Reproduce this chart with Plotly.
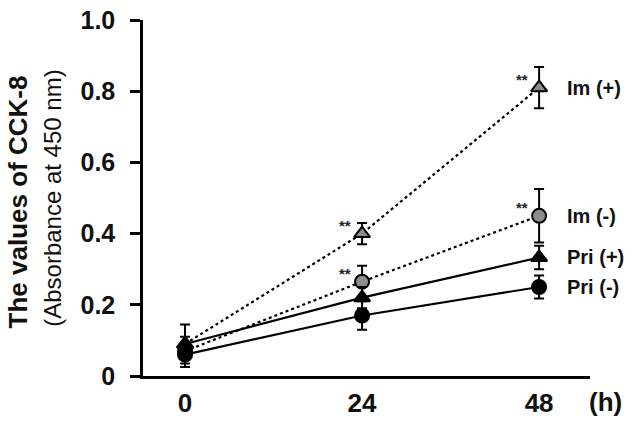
import plotly.graph_objects as go

# --------------------------------------------------------
# Data
# --------------------------------------------------------

hours = [0, 24, 48]

im_plus = [0.09, 0.40, 0.81]
im_plus_err = [0.055, 0.03, 0.058]

im_minus = [0.07, 0.265, 0.45]
im_minus_err = [0.02, 0.045, 0.075]

pri_plus = [0.09, 0.22, 0.333]
pri_plus_err = [0.02, 0.03, 0.033]

pri_minus = [0.06, 0.17, 0.25]
pri_minus_err = [0.035, 0.04, 0.032]

series_names = ["Im (+)", "Im (-)", "Pri (+)", "Pri (-)"]

y_ticks = [0, 0.2, 0.4, 0.6, 0.8, 1.0]
y_tick_text = ["0", "0.2", "0.4", "0.6", "0.8", "1.0"]

FONT = "Liberation Sans, Arial, sans-serif"


def add_series(fig, y, err, dash, symbol, fill):

    fig.add_trace(

        go.Scatter(

            x=hours,

            y=y,

            mode="lines+markers",

            line={"color": "black", "width": 2.2, "dash": dash},

            marker={

                "symbol": symbol,

                "size": 14,

                "color": fill,

                "line": {"color": "black", "width": 2}

            },

            error_y={

                "type": "data",

                "array": err,

                "color": "black",

                "thickness": 2,

                "width": 5

            },

            showlegend=False

        )

    )


fig = go.Figure()

add_series(fig, im_plus, im_plus_err, "dot", "triangle-up", "#8c8c8c")
add_series(fig, im_minus, im_minus_err, "dot", "circle", "#8c8c8c")
add_series(fig, pri_plus, pri_plus_err, "solid", "triangle-up", "black")
add_series(fig, pri_minus, pri_minus_err, "solid", "circle", "black")


# --------------------------------------------------------
# Series labels at the right
# --------------------------------------------------------

last_values = [im_plus[-1], im_minus[-1], pri_plus[-1], pri_minus[-1]]

for name, yv in zip(series_names, last_values):

    fig.add_annotation(

        x=hours[-1], y=yv, xref="x", yref="y",

        text=f"<b>{name}</b>",

        showarrow=False,

        xanchor="left", yanchor="middle",

        xshift=26,

        font={"family": FONT, "size": 20, "color": "#111"}

    )


# --------------------------------------------------------
# Significance marks
# --------------------------------------------------------

for series in [im_plus, im_minus]:

    for i in [1, 2]:

        fig.add_annotation(

            x=hours[i], y=series[i], xref="x", yref="y",

            text="<b>**</b>",

            showarrow=False,

            xanchor="center", yanchor="middle",

            xshift=-17, yshift=8,

            font={"family": FONT, "size": 15, "color": "#222"}

        )


# --------------------------------------------------------
# Axis titles
# --------------------------------------------------------

fig.add_annotation(

    x=-0.28, y=0.49, xref="paper", yref="paper",

    text="<b>The values of CCK-8</b>",

    textangle=-90, showarrow=False,

    xanchor="center", yanchor="middle",

    font={"family": FONT, "size": 26, "color": "#111"}

)

fig.add_annotation(

    x=-0.204, y=0.5, xref="paper", yref="paper",

    text="(Absorbance at 450 nm)",

    textangle=-90, showarrow=False,

    xanchor="center", yanchor="middle",

    font={"family": FONT, "size": 24, "color": "#111"}

)

fig.add_annotation(

    x=1.034, y=0, xref="paper", yref="paper",

    text="<b>(h)</b>",

    showarrow=False,

    xanchor="center", yanchor="middle",

    yshift=-26,

    font={"family": FONT, "size": 26, "color": "#111"}

)


fig.update_layout(

    width=634,

    height=426,

    margin={"l": 143, "r": 44, "t": 20, "b": 50},

    paper_bgcolor="white",

    plot_bgcolor="white",

    font={"family": FONT, "color": "#111"},

    xaxis={

        "range": [-5.7, 54.9],

        "tickvals": hours,

        "ticktext": [f"<b>{h}</b>" for h in hours],

        "tickfont": {"size": 26},

        "ticks": "outside",

        "ticklen": 2,

        "tickcolor": "rgba(0,0,0,0)",

        "automargin": False,

        "showline": True,

        "linecolor": "black",

        "linewidth": 2.5,

        "showgrid": False,

        "zeroline": False

    },

    yaxis={

        "range": [0, 1.0],

        "tickvals": y_ticks,

        "ticktext": [f"<b>{t}</b>" for t in y_tick_text],

        "tickfont": {"size": 25},

        "ticks": "outside",

        "ticklen": 10,

        "tickwidth": 2.5,

        "tickcolor": "black",

        "ticklabelstandoff": 10,

        "automargin": False,

        "showline": True,

        "linecolor": "black",

        "linewidth": 2.5,

        "showgrid": False,

        "zeroline": False

    }

)

# drop the page's default body margin so the figure fills the window
fig.write_html(

    "out.html",

    config={"displayModeBar": False},

    post_script="document.body.style.margin = '0';"

)
